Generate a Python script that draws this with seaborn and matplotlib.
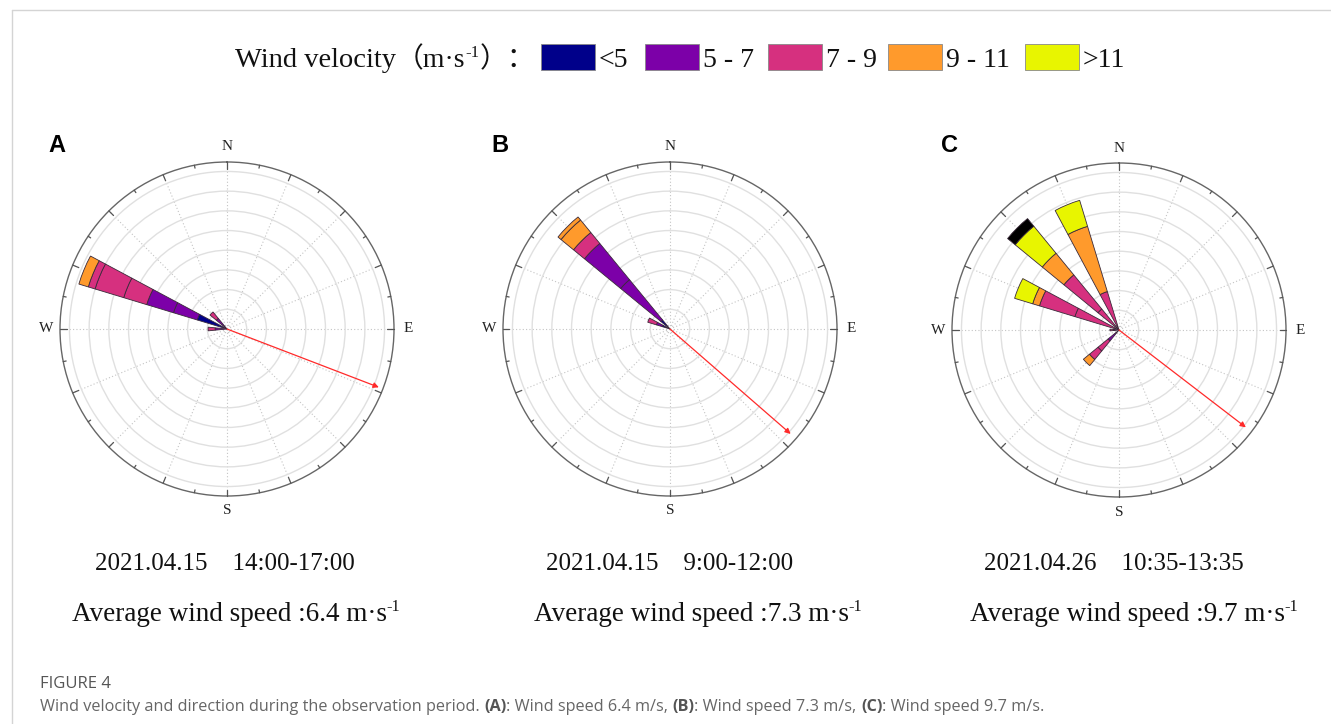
import numpy as np
import matplotlib
matplotlib.use("Agg")
import matplotlib.pyplot as plt
import seaborn as sns

W, H, DPI = 1331, 724, 100

# ---------------- data ----------------
speed_classes = ["<5", "5 - 7", "7 - 9", "9 - 11", ">11", ">13"]
class_colors = ["#00008a", "#7c00a8", "#d6307f", "#ff9a2c", "#e8f500", "#000000"]
n_legend = 5

# Panel A: direction (deg, from N clockwise), speed class index, segment length (frequency units)
a_dir = [292.5, 292.5, 292.5, 292.5, 292.5, 292.5, 292.5, 315, 315, 270, 270]
a_cls = [0, 1, 1, 2, 2, 2, 3, 1, 2, 1, 2]
a_len = [7.9, 6.3, 7.1, 6.1, 7.6, 1.8, 2.5, 3.5, 2.1, 3.0, 1.8]

# Panel B
b_dir = [315, 315, 315, 315, 315, 315, 292.5, 292.5, 292.5]
b_cls = [0, 1, 1, 2, 3, 3, 0, 1, 2]
b_len = [3.0, 13.2, 11.9, 3.6, 4.1, 1.0, 2.0, 1.6, 2.3]

# Panel C
c_dir = [337.5, 337.5, 337.5, 315, 315, 315, 315, 315,
         292.5, 292.5, 292.5, 292.5, 225, 225, 225, 225, 270, 270]
c_cls = [2, 3, 4, 2, 2, 3, 4, 5, 2, 2, 3, 4, 1, 2, 2, 3, 1, 2]
c_len = [10.2, 17.3, 6.9, 6.9, 11.2, 7.1, 8.9, 2.5,
         11.7, 9.4, 1.8, 4.8, 3.6, 3.3, 2.8, 2.0, 1.3, 1.0]

# mean direction arrows (deg) and length
arrow_dir = [111.0, 131.0, 127.5]
arrow_len = [41.3, 40.6, 40.6]

panel_letters = ["A", "B", "C"]
period_dates = ["2021.04.15", "2021.04.15", "2021.04.26"]
period_times = ["14:00-17:00", "9:00-12:00", "10:35-13:35"]
avg_speed = ["6.4", "7.3", "9.7"]

ring_values = [5, 10, 15, 20, 25, 30, 35, 40]
r_max = 42.4
sector_width = 11.25

# ---------------- style ----------------
sns.set_theme(style="white")
palette = sns.color_palette(class_colors)
SERIF = ["Liberation Serif", "Noto Sans CJK SC", "DejaVu Serif"]
plt.rcParams["font.family"] = ["Liberation Serif", "Noto Sans CJK SC", "DejaVu Sans"]

fig = plt.figure(figsize=(W / DPI, H / DPI), dpi=DPI)
fig.patch.set_facecolor("white")
renderer = fig.canvas.get_renderer()

# page frame lines
fig.add_artist(plt.Line2D([12 / W, 1], [1 - 10 / H, 1 - 10 / H], color="#d4d4d4", lw=1.0))
fig.add_artist(plt.Line2D([12 / W, 12 / W], [0, 1 - 10 / H], color="#d4d4d4", lw=1.0))


def text_width(s, **kw):
    t = fig.text(0, 0, s, **kw)
    w = t.get_window_extent(renderer).width
    t.remove()
    return w


def pieces_line(x, y, pieces, ha="left"):
    widths = [text_width(s, **kw) for s, kw, dy in pieces]
    x0 = x - sum(widths) / 2 if ha == "center" else x
    for (s, kw, dy), w in zip(pieces, widths):
        fig.text(x0 / W, 1 - (y - dy) / H, s, va="baseline", ha="left", **kw)
        x0 += w


# ---------------- legend ----------------
leg_fs = 20
serif_kw = dict(fontsize=leg_fs, family=SERIF, color="#111111")
sup_kw = dict(fontsize=leg_fs * 0.6, family=SERIF, color="#111111")
pieces_line(235, 67, [("Wind velocity", dict(serif_kw, fontsize=20.5), 0),
                      ("（m·s", serif_kw, 0),
                      ("-1", sup_kw, 10),
                      ("）：", serif_kw, 0)])
patch_x = [541, 645, 768, 888, 1025]
for i in range(n_legend):
    x0 = patch_x[i]
    fig.add_artist(plt.Rectangle((x0 / W, 1 - 70 / H), 54 / W, 26 / H,
                                 facecolor=palette[i], edgecolor="#888888", lw=0.6))
    fig.text((x0 + 58) / W, 1 - 67 / H, speed_classes[i], va="baseline", ha="left", **serif_kw)

# ---------------- roses ----------------
centers = [(227, 329), (670, 329), (1119, 330)]
R_px = 167
data = [(a_dir, a_cls, a_len), (b_dir, b_cls, b_len), (c_dir, c_cls, c_len)]

for k, ((cx, cy), (dirs, cls, lens)) in enumerate(zip(centers, data)):
    ax = fig.add_axes([(cx - R_px) / W, 1 - (cy + R_px) / H, 2 * R_px / W, 2 * R_px / H],
                      projection="polar")
    ax.set_facecolor("white")
    ax.set_theta_zero_location("N")
    ax.set_theta_direction(-1)
    ax.set_ylim(0, r_max)
    ax.set_yticks(ring_values)
    ax.set_yticklabels([])
    ax.set_xticks(np.deg2rad(np.arange(0, 360, 22.5)))
    ax.set_xticklabels([])
    ax.tick_params(length=0)
    ax.yaxis.grid(True, color="#e0e0e0", lw=1.0, ls="-")
    ax.xaxis.grid(True, color="#c4c4c4", lw=0.8, ls=(0, (1, 2)))
    ax.spines["polar"].set_color("#666666")
    ax.spines["polar"].set_linewidth(1.0)

    # stacked sectors
    bottoms = {}
    for d, c, l in zip(dirs, cls, lens):
        b = bottoms.get(d, 0.0)
        ax.bar(np.deg2rad(d), l, width=np.deg2rad(sector_width), bottom=b,
               color=palette[c], edgecolor="#3a2a3a", linewidth=0.6, zorder=3)
        bottoms[d] = b + l

    # compass ticks on outer circle
    for j in range(32):
        th = np.deg2rad(j * 11.25)
        frac = 6.5 / R_px if j % 2 == 0 else 3.0 / R_px
        ax.plot([th, th], [r_max, r_max * (1 - frac)], color="#555555", lw=0.9,
                clip_on=False, zorder=4)

    # mean direction arrow
    ax.annotate("", xy=(np.deg2rad(arrow_dir[k]), arrow_len[k]), xytext=(0, 0),
                arrowprops=dict(arrowstyle="-|>", color="#ff2a2a", lw=0.9,
                                mutation_scale=8, shrinkA=0, shrinkB=0), zorder=5)

    # compass letters
    lab_kw = dict(fontsize=11, family=SERIF, color="#222222", ha="center", va="center")
    fig.text(cx / W, 1 - (cy - 182) / H, "N", **lab_kw)
    fig.text(cx / W, 1 - (cy + 182) / H, "S", **lab_kw)
    fig.text((cx - 181) / W, 1 - cy / H, "W", **lab_kw)
    fig.text((cx + 181) / W, 1 - cy / H, "E", **lab_kw)

    # panel letter
    fig.text((cx - 170) / W, 1 - 145 / H, panel_letters[k], fontsize=17, fontweight="bold",
             family=["Liberation Sans", "DejaVu Sans"], color="black", ha="center", va="center")

# captions under roses
cap1_kw = dict(fontsize=18, family=SERIF, color="#111111")
cap_kw = dict(fontsize=19.5, family=SERIF, color="#111111")
cap_sup = dict(fontsize=19.5 * 0.6, family=SERIF, color="#111111")
line1_cx = [225, 670, 1114]
line2_cx = [236, 698, 1134]
for k in range(3):
    pieces_line(line1_cx[k], 570, [(period_dates[k] + "    " + period_times[k], cap1_kw, 0)],
                ha="center")
    pieces_line(line2_cx[k], 621, [("Average wind speed :" + avg_speed[k] + " m·s", cap_kw, 0),
                                   ("-1", cap_sup, 10)], ha="center")

# figure caption
sans = ["Open Sans", "DejaVu Sans"]
fig.text(40 / W, 1 - 688 / H, "FIGURE 4", fontsize=12, family=sans, color="#555555",
         va="baseline", ha="left")
cfs = 11.7
reg = dict(fontsize=cfs, family=sans, color="#666666")
bold = dict(fontsize=cfs, family=sans, color="#555555", fontweight="bold")
pieces_line(40, 711, [
    ("Wind velocity and direction during the observation period. ", reg, 0),
    ("(A)", bold, 0), (": Wind speed 6.4 m/s, ", reg, 0),
    ("(B)", bold, 0), (": Wind speed 7.3 m/s, ", reg, 0),
    ("(C)", bold, 0), (": Wind speed 9.7 m/s.", reg, 0)])

fig.savefig("out.png", dpi=DPI, facecolor="white")
